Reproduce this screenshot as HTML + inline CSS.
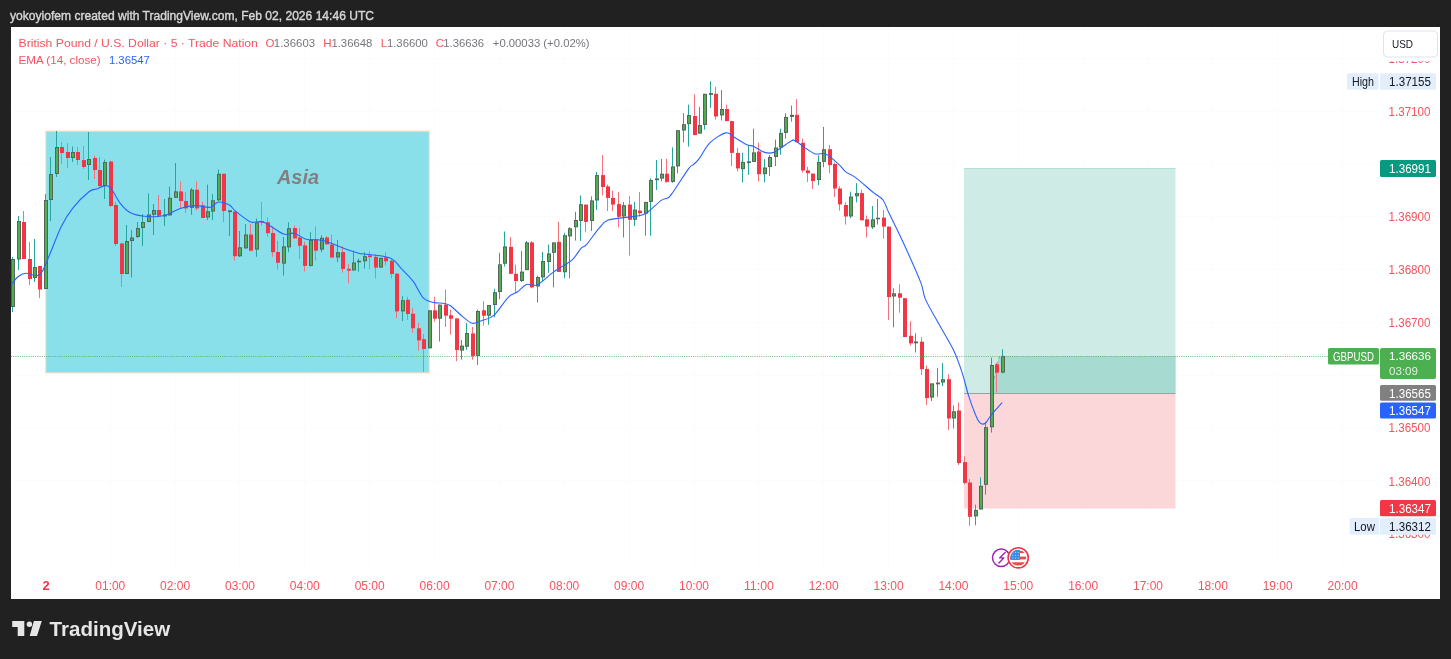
<!DOCTYPE html><html><head><meta charset="utf-8"><style>html,body{margin:0;padding:0;background:#212121;}svg{display:block;will-change:transform}text{font-family:"Liberation Sans",sans-serif}</style></head><body>
<svg width="1451" height="659" viewBox="0 0 1451 659">
<rect x="0" y="0" width="1451" height="659" fill="#212121"/>
<text x="10" y="20" font-size="12.5" fill="#d6d6d6" stroke="#d6d6d6" stroke-width="0.4" textLength="364" lengthAdjust="spacingAndGlyphs">yokoyiofem created with TradingView.com, Feb 02, 2026 14:46 UTC</text>
<rect x="11" y="27" width="1429" height="572" fill="#ffffff"/>
<path d="M110.5 27V566 M175.5 27V566 M239.5 27V566 M304.5 27V566 M369.5 27V566 M434.5 27V566 M499.5 27V566 M564.5 27V566 M629.5 27V566 M694.5 27V566 M758.5 27V566 M823.5 27V566 M888.5 27V566 M953.5 27V566 M1018.5 27V566 M1083.5 27V566 M1148.5 27V566 M1212.5 27V566 M1277.5 27V566 M1342.5 27V566 M11 58.5H1380 M11 111.5H1380 M11 164.5H1380 M11 216.5H1380 M11 269.5H1380 M11 322.5H1380 M11 375.5H1380 M11 427.5H1380 M11 480.5H1380" stroke="#fcfcfc" stroke-width="1" fill="none"/>
<rect x="45.6" y="131" width="383.8" height="242" fill="#89e0ea" stroke="#ffe2c8" stroke-width="1.3"/>
<text x="277" y="184" font-size="21" font-weight="bold" font-style="italic" fill="#857e80" textLength="42" lengthAdjust="spacingAndGlyphs">Asia</text>
<rect x="964" y="168" width="211.5" height="225" fill="#cfebe6"/>
<path d="M990.5 393L999 356H1175.5V393Z" fill="#a7dad1"/>
<path d="M990.5 393L999.5 356L1004 356" fill="none" stroke="#8c9896" stroke-width="0.8" stroke-dasharray="2.5 2.5"/>
<rect x="964" y="393" width="211.5" height="115.5" fill="#fcd7da"/>
<path d="M964 393.5H1175.5" stroke="#9aa3a1" stroke-width="1"/>
<path d="M964 168.5H1175.5" stroke="#b3e0d8" stroke-width="1"/>
<path d="M12.5 257.0V312.0" stroke="#26a69a" stroke-width="1"/>
<rect x="11" y="259.0" width="4" height="48.0" fill="#56645a"/>
<rect x="12" y="260.0" width="2" height="46.0" fill="#4caf50"/>
<path d="M18.5 216.0V270.0" stroke="#26a69a" stroke-width="1"/>
<rect x="17" y="221.0" width="4" height="38.5" fill="#56645a"/>
<rect x="18" y="222.0" width="2" height="36.5" fill="#4caf50"/>
<path d="M23.5 211.0V259.0" stroke="#f7707b" stroke-width="1"/>
<rect x="22" y="222.0" width="4" height="37.0" fill="#f23645"/>
<path d="M29.5 242.0V285.0" stroke="#f7707b" stroke-width="1"/>
<rect x="28" y="259.0" width="4" height="20.0" fill="#f23645"/>
<path d="M34.5 239.0V282.0" stroke="#26a69a" stroke-width="1"/>
<rect x="33" y="267.0" width="4" height="11.0" fill="#56645a"/>
<rect x="34" y="268.0" width="2" height="9.0" fill="#4caf50"/>
<path d="M39.5 266.0V298.0" stroke="#f7707b" stroke-width="1"/>
<rect x="38" y="266.0" width="4" height="23.5" fill="#f23645"/>
<path d="M45.5 194.0V289.0" stroke="#26a69a" stroke-width="1"/>
<rect x="44" y="200.0" width="4" height="89.0" fill="#56645a"/>
<rect x="45" y="201.0" width="2" height="87.0" fill="#4caf50"/>
<path d="M50.5 157.0V221.0" stroke="#26a69a" stroke-width="1"/>
<rect x="49" y="174.0" width="4" height="26.0" fill="#56645a"/>
<rect x="50" y="175.0" width="2" height="24.0" fill="#4caf50"/>
<path d="M56.5 131.0V177.0" stroke="#26a69a" stroke-width="1"/>
<rect x="55" y="147.0" width="4" height="27.0" fill="#56645a"/>
<rect x="56" y="148.0" width="2" height="25.0" fill="#4caf50"/>
<path d="M61.5 142.0V164.0" stroke="#f7707b" stroke-width="1"/>
<rect x="60" y="147.0" width="4" height="6.0" fill="#f23645"/>
<path d="M67.5 143.0V168.0" stroke="#f7707b" stroke-width="1"/>
<rect x="66" y="152.0" width="4" height="6.0" fill="#f23645"/>
<path d="M72.5 146.5V162.0" stroke="#26a69a" stroke-width="1"/>
<rect x="71" y="152.0" width="4" height="6.0" fill="#56645a"/>
<rect x="72" y="153.0" width="2" height="4.0" fill="#4caf50"/>
<path d="M77.5 147.0V165.0" stroke="#f7707b" stroke-width="1"/>
<rect x="76" y="152.0" width="4" height="8.0" fill="#f23645"/>
<path d="M83.5 146.0V169.0" stroke="#f7707b" stroke-width="1"/>
<rect x="82" y="160.0" width="4" height="7.0" fill="#f23645"/>
<path d="M88.5 132.0V180.0" stroke="#26a69a" stroke-width="1"/>
<rect x="87" y="159.0" width="4" height="6.0" fill="#56645a"/>
<rect x="88" y="160.0" width="2" height="4.0" fill="#4caf50"/>
<path d="M94.5 155.5V179.0" stroke="#f7707b" stroke-width="1"/>
<rect x="93" y="158.0" width="4" height="12.0" fill="#f23645"/>
<path d="M99.5 157.0V187.0" stroke="#f7707b" stroke-width="1"/>
<rect x="98" y="170.0" width="4" height="16.0" fill="#f23645"/>
<path d="M104.5 159.6V199.0" stroke="#26a69a" stroke-width="1"/>
<rect x="103" y="162.0" width="4" height="24.0" fill="#56645a"/>
<rect x="104" y="163.0" width="2" height="22.0" fill="#4caf50"/>
<path d="M110.5 161.0V207.0" stroke="#f7707b" stroke-width="1"/>
<rect x="109" y="161.5" width="4" height="44.5" fill="#f23645"/>
<path d="M115.5 202.0V246.0" stroke="#f7707b" stroke-width="1"/>
<rect x="114" y="205.0" width="4" height="39.0" fill="#f23645"/>
<path d="M121.5 243.0V287.0" stroke="#f7707b" stroke-width="1"/>
<rect x="120" y="243.5" width="4" height="30.5" fill="#f23645"/>
<path d="M126.5 225.0V274.0" stroke="#26a69a" stroke-width="1"/>
<rect x="125" y="241.0" width="4" height="33.0" fill="#56645a"/>
<rect x="126" y="242.0" width="2" height="31.0" fill="#4caf50"/>
<path d="M131.5 230.0V277.5" stroke="#26a69a" stroke-width="1"/>
<rect x="130" y="237.5" width="4" height="3.5" fill="#56645a"/>
<rect x="131" y="238.5" width="2" height="1.5" fill="#4caf50"/>
<path d="M137.5 222.0V238.0" stroke="#26a69a" stroke-width="1"/>
<rect x="136" y="228.0" width="4" height="9.0" fill="#56645a"/>
<rect x="137" y="229.0" width="2" height="7.0" fill="#4caf50"/>
<path d="M142.5 214.0V246.0" stroke="#26a69a" stroke-width="1"/>
<rect x="141" y="222.0" width="4" height="6.0" fill="#56645a"/>
<rect x="142" y="223.0" width="2" height="4.0" fill="#4caf50"/>
<path d="M148.5 193.5V222.0" stroke="#26a69a" stroke-width="1"/>
<rect x="147" y="214.5" width="4" height="7.5" fill="#56645a"/>
<rect x="148" y="215.5" width="2" height="5.5" fill="#4caf50"/>
<path d="M153.5 204.0V235.0" stroke="#26a69a" stroke-width="1"/>
<rect x="152" y="210.0" width="4" height="4.8" fill="#56645a"/>
<rect x="153" y="211.0" width="2" height="2.8" fill="#4caf50"/>
<path d="M158.5 195.0V217.0" stroke="#f7707b" stroke-width="1"/>
<rect x="157" y="210.0" width="4" height="5.8" fill="#f23645"/>
<path d="M164.5 199.0V226.0" stroke="#26a69a" stroke-width="1"/>
<rect x="163" y="214.6" width="4" height="1.8" fill="#56645a"/>
<path d="M169.5 186.5V215.8" stroke="#26a69a" stroke-width="1"/>
<rect x="168" y="197.8" width="4" height="17.6" fill="#56645a"/>
<rect x="169" y="198.8" width="2" height="15.6" fill="#4caf50"/>
<path d="M175.5 163.0V197.8" stroke="#26a69a" stroke-width="1"/>
<rect x="174" y="191.4" width="4" height="6.4" fill="#56645a"/>
<rect x="175" y="192.4" width="2" height="4.4" fill="#4caf50"/>
<path d="M180.5 181.4V208.4" stroke="#f7707b" stroke-width="1"/>
<rect x="179" y="191.4" width="4" height="9.6" fill="#f23645"/>
<path d="M185.5 192.0V212.7" stroke="#f7707b" stroke-width="1"/>
<rect x="184" y="201.0" width="4" height="7.4" fill="#f23645"/>
<path d="M191.5 188.0V214.8" stroke="#26a69a" stroke-width="1"/>
<rect x="190" y="189.7" width="4" height="18.1" fill="#56645a"/>
<rect x="191" y="190.7" width="2" height="16.1" fill="#4caf50"/>
<path d="M196.5 181.4V210.5" stroke="#f7707b" stroke-width="1"/>
<rect x="195" y="189.7" width="4" height="18.7" fill="#f23645"/>
<path d="M202.5 201.6V218.0" stroke="#f7707b" stroke-width="1"/>
<rect x="201" y="205.2" width="4" height="12.8" fill="#f23645"/>
<path d="M207.5 184.6V220.0" stroke="#26a69a" stroke-width="1"/>
<rect x="206" y="211.2" width="4" height="6.3" fill="#56645a"/>
<rect x="207" y="212.2" width="2" height="4.3" fill="#4caf50"/>
<path d="M212.5 194.0V220.0" stroke="#26a69a" stroke-width="1"/>
<rect x="211" y="200.3" width="4" height="11.3" fill="#56645a"/>
<rect x="212" y="201.3" width="2" height="9.3" fill="#4caf50"/>
<path d="M218.5 169.5V201.0" stroke="#26a69a" stroke-width="1"/>
<rect x="217" y="173.8" width="4" height="26.5" fill="#56645a"/>
<rect x="218" y="174.8" width="2" height="24.5" fill="#4caf50"/>
<path d="M223.5 173.8V222.2" stroke="#f7707b" stroke-width="1"/>
<rect x="222" y="173.8" width="4" height="37.2" fill="#f23645"/>
<path d="M229.5 211.0V236.0" stroke="#26a69a" stroke-width="1"/>
<rect x="228" y="210.3" width="4" height="1.8" fill="#56645a"/>
<path d="M234.5 211.6V260.5" stroke="#f7707b" stroke-width="1"/>
<rect x="233" y="211.6" width="4" height="44.6" fill="#f23645"/>
<path d="M239.5 231.0V257.0" stroke="#26a69a" stroke-width="1"/>
<rect x="238" y="247.3" width="4" height="9.0" fill="#56645a"/>
<rect x="239" y="248.3" width="2" height="7.0" fill="#4caf50"/>
<path d="M245.5 224.0V248.4" stroke="#26a69a" stroke-width="1"/>
<rect x="244" y="234.5" width="4" height="13.9" fill="#56645a"/>
<rect x="245" y="235.5" width="2" height="11.9" fill="#4caf50"/>
<path d="M250.5 224.0V251.5" stroke="#f7707b" stroke-width="1"/>
<rect x="249" y="234.5" width="4" height="16.2" fill="#f23645"/>
<path d="M256.5 218.5V256.8" stroke="#26a69a" stroke-width="1"/>
<rect x="255" y="222.3" width="4" height="27.3" fill="#56645a"/>
<rect x="256" y="223.3" width="2" height="25.3" fill="#4caf50"/>
<path d="M261.5 202.0V226.0" stroke="#f7707b" stroke-width="1"/>
<rect x="260" y="221.0" width="4" height="1.6" fill="#f23645"/>
<path d="M267.5 217.6V237.0" stroke="#f7707b" stroke-width="1"/>
<rect x="266" y="222.3" width="4" height="10.9" fill="#f23645"/>
<path d="M272.5 226.4V256.8" stroke="#f7707b" stroke-width="1"/>
<rect x="271" y="233.0" width="4" height="19.2" fill="#f23645"/>
<path d="M277.5 240.8V269.7" stroke="#f7707b" stroke-width="1"/>
<rect x="276" y="252.0" width="4" height="10.8" fill="#f23645"/>
<path d="M283.5 237.0V275.7" stroke="#26a69a" stroke-width="1"/>
<rect x="282" y="246.4" width="4" height="17.2" fill="#56645a"/>
<rect x="283" y="247.4" width="2" height="15.2" fill="#4caf50"/>
<path d="M288.5 222.3V252.2" stroke="#26a69a" stroke-width="1"/>
<rect x="287" y="228.2" width="4" height="19.2" fill="#56645a"/>
<rect x="288" y="229.2" width="2" height="17.2" fill="#4caf50"/>
<path d="M294.5 225.7V238.6" stroke="#f7707b" stroke-width="1"/>
<rect x="293" y="228.0" width="4" height="10.3" fill="#f23645"/>
<path d="M299.5 228.0V259.0" stroke="#f7707b" stroke-width="1"/>
<rect x="298" y="237.5" width="4" height="8.3" fill="#f23645"/>
<path d="M304.5 241.6V271.5" stroke="#f7707b" stroke-width="1"/>
<rect x="303" y="245.4" width="4" height="20.5" fill="#f23645"/>
<path d="M310.5 232.2V266.6" stroke="#26a69a" stroke-width="1"/>
<rect x="309" y="239.6" width="4" height="26.3" fill="#56645a"/>
<rect x="310" y="240.6" width="2" height="24.3" fill="#4caf50"/>
<path d="M315.5 226.4V260.6" stroke="#f7707b" stroke-width="1"/>
<rect x="314" y="239.3" width="4" height="11.4" fill="#f23645"/>
<path d="M321.5 235.2V252.2" stroke="#26a69a" stroke-width="1"/>
<rect x="320" y="237.8" width="4" height="11.8" fill="#56645a"/>
<rect x="321" y="238.8" width="2" height="9.8" fill="#4caf50"/>
<path d="M326.5 236.0V245.0" stroke="#f7707b" stroke-width="1"/>
<rect x="325" y="237.5" width="4" height="6.8" fill="#f23645"/>
<path d="M331.5 234.3V258.3" stroke="#f7707b" stroke-width="1"/>
<rect x="330" y="244.6" width="4" height="12.9" fill="#f23645"/>
<path d="M337.5 240.0V262.0" stroke="#26a69a" stroke-width="1"/>
<rect x="336" y="252.2" width="4" height="5.3" fill="#56645a"/>
<rect x="337" y="253.2" width="2" height="3.3" fill="#4caf50"/>
<path d="M342.5 246.0V272.7" stroke="#f7707b" stroke-width="1"/>
<rect x="341" y="252.0" width="4" height="16.9" fill="#f23645"/>
<path d="M348.5 264.0V283.3" stroke="#f7707b" stroke-width="1"/>
<rect x="347" y="268.8" width="4" height="1.8" fill="#f23645"/>
<path d="M353.5 250.5V270.6" stroke="#26a69a" stroke-width="1"/>
<rect x="352" y="262.5" width="4" height="7.9" fill="#56645a"/>
<rect x="353" y="263.5" width="2" height="5.9" fill="#4caf50"/>
<path d="M358.5 258.7V271.6" stroke="#26a69a" stroke-width="1"/>
<rect x="357" y="260.7" width="4" height="1.6" fill="#56645a"/>
<path d="M364.5 252.2V268.6" stroke="#26a69a" stroke-width="1"/>
<rect x="363" y="256.2" width="4" height="5.1" fill="#56645a"/>
<rect x="364" y="257.2" width="2" height="3.1" fill="#4caf50"/>
<path d="M369.5 251.4V269.2" stroke="#f7707b" stroke-width="1"/>
<rect x="368" y="255.4" width="4" height="1.8" fill="#f23645"/>
<path d="M375.5 254.2V278.5" stroke="#f7707b" stroke-width="1"/>
<rect x="374" y="256.8" width="4" height="10.8" fill="#f23645"/>
<path d="M380.5 257.8V267.6" stroke="#26a69a" stroke-width="1"/>
<rect x="379" y="257.8" width="4" height="9.8" fill="#56645a"/>
<rect x="380" y="258.8" width="2" height="7.8" fill="#4caf50"/>
<path d="M385.5 252.2V265.3" stroke="#f7707b" stroke-width="1"/>
<rect x="384" y="257.4" width="4" height="3.9" fill="#f23645"/>
<path d="M391.5 257.8V278.5" stroke="#f7707b" stroke-width="1"/>
<rect x="390" y="260.7" width="4" height="13.3" fill="#f23645"/>
<path d="M396.5 273.6V318.0" stroke="#f7707b" stroke-width="1"/>
<rect x="395" y="273.6" width="4" height="37.8" fill="#f23645"/>
<path d="M402.5 296.2V321.0" stroke="#26a69a" stroke-width="1"/>
<rect x="401" y="300.2" width="4" height="11.2" fill="#56645a"/>
<rect x="402" y="301.2" width="2" height="9.2" fill="#4caf50"/>
<path d="M407.5 296.8V320.0" stroke="#f7707b" stroke-width="1"/>
<rect x="406" y="299.8" width="4" height="14.2" fill="#f23645"/>
<path d="M412.5 308.0V332.8" stroke="#f7707b" stroke-width="1"/>
<rect x="411" y="313.7" width="4" height="14.6" fill="#f23645"/>
<path d="M418.5 323.0V350.6" stroke="#f7707b" stroke-width="1"/>
<rect x="417" y="328.3" width="4" height="12.1" fill="#f23645"/>
<path d="M423.5 334.0V372.0" stroke="#f7707b" stroke-width="1"/>
<rect x="422" y="339.2" width="4" height="9.8" fill="#f23645"/>
<path d="M429.5 310.0V348.3" stroke="#26a69a" stroke-width="1"/>
<rect x="428" y="310.3" width="4" height="38.0" fill="#56645a"/>
<rect x="429" y="311.3" width="2" height="36.0" fill="#4caf50"/>
<path d="M434.5 296.7V321.7" stroke="#f7707b" stroke-width="1"/>
<rect x="433" y="310.3" width="4" height="8.4" fill="#f23645"/>
<path d="M439.5 304.6V341.5" stroke="#26a69a" stroke-width="1"/>
<rect x="438" y="304.6" width="4" height="14.1" fill="#56645a"/>
<rect x="439" y="305.6" width="2" height="12.1" fill="#4caf50"/>
<path d="M445.5 289.4V327.0" stroke="#f7707b" stroke-width="1"/>
<rect x="444" y="304.6" width="4" height="11.1" fill="#f23645"/>
<path d="M450.5 309.6V334.6" stroke="#f7707b" stroke-width="1"/>
<rect x="449" y="315.2" width="4" height="3.5" fill="#f23645"/>
<path d="M456.5 318.4V361.2" stroke="#f7707b" stroke-width="1"/>
<rect x="455" y="318.4" width="4" height="31.6" fill="#f23645"/>
<path d="M461.5 340.0V359.7" stroke="#26a69a" stroke-width="1"/>
<rect x="460" y="345.6" width="4" height="5.0" fill="#56645a"/>
<rect x="461" y="346.6" width="2" height="3.0" fill="#4caf50"/>
<path d="M466.5 323.0V349.8" stroke="#26a69a" stroke-width="1"/>
<rect x="465" y="333.0" width="4" height="13.8" fill="#56645a"/>
<rect x="466" y="334.0" width="2" height="11.8" fill="#4caf50"/>
<path d="M472.5 327.0V359.7" stroke="#f7707b" stroke-width="1"/>
<rect x="471" y="333.4" width="4" height="22.5" fill="#f23645"/>
<path d="M477.5 309.6V365.0" stroke="#26a69a" stroke-width="1"/>
<rect x="476" y="311.0" width="4" height="44.9" fill="#56645a"/>
<rect x="477" y="312.0" width="2" height="42.9" fill="#4caf50"/>
<path d="M483.5 301.2V325.5" stroke="#f7707b" stroke-width="1"/>
<rect x="482" y="310.3" width="4" height="5.4" fill="#f23645"/>
<path d="M488.5 305.0V324.8" stroke="#26a69a" stroke-width="1"/>
<rect x="487" y="305.0" width="4" height="10.7" fill="#56645a"/>
<rect x="488" y="306.0" width="2" height="8.7" fill="#4caf50"/>
<path d="M494.5 288.8V317.2" stroke="#26a69a" stroke-width="1"/>
<rect x="493" y="292.2" width="4" height="12.8" fill="#56645a"/>
<rect x="494" y="293.2" width="2" height="10.8" fill="#4caf50"/>
<path d="M499.5 252.8V299.2" stroke="#26a69a" stroke-width="1"/>
<rect x="498" y="264.3" width="4" height="27.7" fill="#56645a"/>
<rect x="499" y="265.3" width="2" height="25.7" fill="#4caf50"/>
<path d="M504.5 231.5V266.5" stroke="#26a69a" stroke-width="1"/>
<rect x="503" y="246.4" width="4" height="17.3" fill="#56645a"/>
<rect x="504" y="247.4" width="2" height="15.3" fill="#4caf50"/>
<path d="M510.5 237.0V273.8" stroke="#f7707b" stroke-width="1"/>
<rect x="509" y="246.8" width="4" height="27.0" fill="#f23645"/>
<path d="M515.5 264.7V292.9" stroke="#f7707b" stroke-width="1"/>
<rect x="514" y="273.8" width="4" height="7.2" fill="#f23645"/>
<path d="M521.5 251.0V282.0" stroke="#26a69a" stroke-width="1"/>
<rect x="520" y="271.6" width="4" height="9.4" fill="#56645a"/>
<rect x="521" y="272.6" width="2" height="7.4" fill="#4caf50"/>
<path d="M526.5 241.0V270.1" stroke="#26a69a" stroke-width="1"/>
<rect x="525" y="242.4" width="4" height="27.7" fill="#56645a"/>
<rect x="526" y="243.4" width="2" height="25.7" fill="#4caf50"/>
<path d="M531.5 241.0V288.3" stroke="#f7707b" stroke-width="1"/>
<rect x="530" y="242.4" width="4" height="45.0" fill="#f23645"/>
<path d="M537.5 275.6V302.5" stroke="#26a69a" stroke-width="1"/>
<rect x="536" y="277.0" width="4" height="9.5" fill="#56645a"/>
<rect x="537" y="278.0" width="2" height="7.5" fill="#4caf50"/>
<path d="M542.5 252.0V281.0" stroke="#26a69a" stroke-width="1"/>
<rect x="541" y="261.0" width="4" height="16.4" fill="#56645a"/>
<rect x="542" y="262.0" width="2" height="14.4" fill="#4caf50"/>
<path d="M548.5 244.6V272.8" stroke="#26a69a" stroke-width="1"/>
<rect x="547" y="253.4" width="4" height="8.6" fill="#56645a"/>
<rect x="548" y="254.4" width="2" height="6.6" fill="#4caf50"/>
<path d="M553.5 242.4V287.4" stroke="#26a69a" stroke-width="1"/>
<rect x="552" y="242.4" width="4" height="10.4" fill="#56645a"/>
<rect x="553" y="243.4" width="2" height="8.4" fill="#4caf50"/>
<path d="M558.5 221.9V271.9" stroke="#f7707b" stroke-width="1"/>
<rect x="557" y="241.9" width="4" height="30.0" fill="#f23645"/>
<path d="M564.5 232.8V278.3" stroke="#26a69a" stroke-width="1"/>
<rect x="563" y="235.2" width="4" height="37.1" fill="#56645a"/>
<rect x="564" y="236.2" width="2" height="35.1" fill="#4caf50"/>
<path d="M569.5 227.3V278.3" stroke="#26a69a" stroke-width="1"/>
<rect x="568" y="228.2" width="4" height="8.2" fill="#56645a"/>
<rect x="569" y="229.2" width="2" height="6.2" fill="#4caf50"/>
<path d="M575.5 211.8V240.6" stroke="#26a69a" stroke-width="1"/>
<rect x="574" y="220.0" width="4" height="7.3" fill="#56645a"/>
<rect x="575" y="221.0" width="2" height="5.3" fill="#4caf50"/>
<path d="M580.5 195.5V241.0" stroke="#26a69a" stroke-width="1"/>
<rect x="579" y="204.2" width="4" height="16.8" fill="#56645a"/>
<rect x="580" y="205.2" width="2" height="14.8" fill="#4caf50"/>
<path d="M585.5 204.6V232.2" stroke="#f7707b" stroke-width="1"/>
<rect x="584" y="204.6" width="4" height="17.3" fill="#f23645"/>
<path d="M591.5 196.4V231.0" stroke="#26a69a" stroke-width="1"/>
<rect x="590" y="200.4" width="4" height="20.6" fill="#56645a"/>
<rect x="591" y="201.4" width="2" height="18.6" fill="#4caf50"/>
<path d="M596.5 171.9V210.0" stroke="#26a69a" stroke-width="1"/>
<rect x="595" y="175.1" width="4" height="25.4" fill="#56645a"/>
<rect x="596" y="176.1" width="2" height="23.4" fill="#4caf50"/>
<path d="M602.5 155.1V195.5" stroke="#f7707b" stroke-width="1"/>
<rect x="601" y="175.1" width="4" height="11.9" fill="#f23645"/>
<path d="M607.5 184.6V211.0" stroke="#f7707b" stroke-width="1"/>
<rect x="606" y="186.4" width="4" height="11.5" fill="#f23645"/>
<path d="M612.5 190.6V211.0" stroke="#f7707b" stroke-width="1"/>
<rect x="611" y="197.9" width="4" height="6.7" fill="#f23645"/>
<path d="M618.5 191.9V227.4" stroke="#f7707b" stroke-width="1"/>
<rect x="617" y="204.1" width="4" height="12.7" fill="#f23645"/>
<path d="M623.5 201.9V237.4" stroke="#26a69a" stroke-width="1"/>
<rect x="622" y="205.2" width="4" height="11.3" fill="#56645a"/>
<rect x="623" y="206.2" width="2" height="9.3" fill="#4caf50"/>
<path d="M629.5 196.0V255.6" stroke="#f7707b" stroke-width="1"/>
<rect x="628" y="204.6" width="4" height="15.2" fill="#f23645"/>
<path d="M634.5 201.9V226.0" stroke="#26a69a" stroke-width="1"/>
<rect x="633" y="209.6" width="4" height="10.2" fill="#56645a"/>
<rect x="634" y="210.6" width="2" height="8.2" fill="#4caf50"/>
<path d="M639.5 191.9V216.5" stroke="#f7707b" stroke-width="1"/>
<rect x="638" y="210.6" width="4" height="2.6" fill="#f23645"/>
<path d="M645.5 201.9V235.6" stroke="#26a69a" stroke-width="1"/>
<rect x="644" y="201.9" width="4" height="11.8" fill="#56645a"/>
<rect x="645" y="202.9" width="2" height="9.8" fill="#4caf50"/>
<path d="M650.5 178.2V235.6" stroke="#26a69a" stroke-width="1"/>
<rect x="649" y="180.0" width="4" height="21.9" fill="#56645a"/>
<rect x="650" y="181.0" width="2" height="19.9" fill="#4caf50"/>
<path d="M656.5 160.0V190.0" stroke="#26a69a" stroke-width="1"/>
<rect x="655" y="178.4" width="4" height="1.8" fill="#56645a"/>
<path d="M661.5 159.0V181.5" stroke="#26a69a" stroke-width="1"/>
<rect x="660" y="173.7" width="4" height="4.9" fill="#56645a"/>
<rect x="661" y="174.7" width="2" height="2.9" fill="#4caf50"/>
<path d="M666.5 159.0V182.8" stroke="#f7707b" stroke-width="1"/>
<rect x="665" y="173.7" width="4" height="8.2" fill="#f23645"/>
<path d="M672.5 147.3V182.8" stroke="#26a69a" stroke-width="1"/>
<rect x="671" y="166.4" width="4" height="15.5" fill="#56645a"/>
<rect x="672" y="167.4" width="2" height="13.5" fill="#4caf50"/>
<path d="M677.5 130.2V173.3" stroke="#26a69a" stroke-width="1"/>
<rect x="676" y="130.2" width="4" height="36.2" fill="#56645a"/>
<rect x="677" y="131.2" width="2" height="34.2" fill="#4caf50"/>
<path d="M683.5 113.2V142.4" stroke="#26a69a" stroke-width="1"/>
<rect x="682" y="124.2" width="4" height="6.3" fill="#56645a"/>
<rect x="683" y="125.2" width="2" height="4.3" fill="#4caf50"/>
<path d="M688.5 104.7V146.6" stroke="#26a69a" stroke-width="1"/>
<rect x="687" y="115.0" width="4" height="9.2" fill="#56645a"/>
<rect x="688" y="116.0" width="2" height="7.2" fill="#4caf50"/>
<path d="M694.5 94.1V135.1" stroke="#f7707b" stroke-width="1"/>
<rect x="693" y="116.0" width="4" height="19.1" fill="#f23645"/>
<path d="M699.5 106.9V133.6" stroke="#26a69a" stroke-width="1"/>
<rect x="698" y="125.0" width="4" height="8.6" fill="#56645a"/>
<rect x="699" y="126.0" width="2" height="6.6" fill="#4caf50"/>
<path d="M704.5 93.8V129.6" stroke="#26a69a" stroke-width="1"/>
<rect x="703" y="93.8" width="4" height="31.2" fill="#56645a"/>
<rect x="704" y="94.8" width="2" height="29.2" fill="#4caf50"/>
<path d="M710.5 81.4V107.8" stroke="#26a69a" stroke-width="1"/>
<rect x="709" y="93.1" width="4" height="1.8" fill="#56645a"/>
<path d="M715.5 86.8V119.6" stroke="#f7707b" stroke-width="1"/>
<rect x="714" y="93.8" width="4" height="22.7" fill="#f23645"/>
<path d="M721.5 90.1V120.5" stroke="#26a69a" stroke-width="1"/>
<rect x="720" y="109.0" width="4" height="6.4" fill="#56645a"/>
<rect x="721" y="110.0" width="2" height="4.4" fill="#4caf50"/>
<path d="M726.5 104.7V121.1" stroke="#f7707b" stroke-width="1"/>
<rect x="725" y="109.0" width="4" height="12.1" fill="#f23645"/>
<path d="M731.5 121.0V166.0" stroke="#f7707b" stroke-width="1"/>
<rect x="730" y="121.1" width="4" height="31.8" fill="#f23645"/>
<path d="M737.5 147.8V171.5" stroke="#f7707b" stroke-width="1"/>
<rect x="736" y="152.9" width="4" height="15.5" fill="#f23645"/>
<path d="M742.5 152.9V182.4" stroke="#26a69a" stroke-width="1"/>
<rect x="741" y="161.9" width="4" height="7.2" fill="#56645a"/>
<rect x="742" y="162.9" width="2" height="5.2" fill="#4caf50"/>
<path d="M748.5 145.0V174.8" stroke="#26a69a" stroke-width="1"/>
<rect x="747" y="161.3" width="4" height="1.8" fill="#56645a"/>
<path d="M753.5 128.7V161.9" stroke="#26a69a" stroke-width="1"/>
<rect x="752" y="152.4" width="4" height="9.5" fill="#56645a"/>
<rect x="753" y="153.4" width="2" height="7.5" fill="#4caf50"/>
<path d="M758.5 142.7V181.5" stroke="#f7707b" stroke-width="1"/>
<rect x="757" y="151.5" width="4" height="22.7" fill="#f23645"/>
<path d="M764.5 159.1V182.4" stroke="#26a69a" stroke-width="1"/>
<rect x="763" y="167.5" width="4" height="6.7" fill="#56645a"/>
<rect x="764" y="168.5" width="2" height="4.7" fill="#4caf50"/>
<path d="M769.5 155.0V176.0" stroke="#26a69a" stroke-width="1"/>
<rect x="768" y="157.0" width="4" height="10.0" fill="#56645a"/>
<rect x="769" y="158.0" width="2" height="8.0" fill="#4caf50"/>
<path d="M775.5 139.6V166.0" stroke="#26a69a" stroke-width="1"/>
<rect x="774" y="147.5" width="4" height="9.5" fill="#56645a"/>
<rect x="775" y="148.5" width="2" height="7.5" fill="#4caf50"/>
<path d="M780.5 128.7V154.8" stroke="#26a69a" stroke-width="1"/>
<rect x="779" y="132.9" width="4" height="14.6" fill="#56645a"/>
<rect x="780" y="133.9" width="2" height="12.6" fill="#4caf50"/>
<path d="M785.5 113.2V138.7" stroke="#26a69a" stroke-width="1"/>
<rect x="784" y="116.9" width="4" height="16.0" fill="#56645a"/>
<rect x="785" y="117.9" width="2" height="14.0" fill="#4caf50"/>
<path d="M791.5 105.6V121.6" stroke="#26a69a" stroke-width="1"/>
<rect x="790" y="114.8" width="4" height="2.1" fill="#56645a"/>
<rect x="791" y="115.8" width="2" height="0.1" fill="#4caf50"/>
<path d="M796.5 99.2V142.2" stroke="#f7707b" stroke-width="1"/>
<rect x="795" y="114.8" width="4" height="27.4" fill="#f23645"/>
<path d="M802.5 138.5V172.5" stroke="#f7707b" stroke-width="1"/>
<rect x="801" y="142.8" width="4" height="27.6" fill="#f23645"/>
<path d="M807.5 166.8V182.1" stroke="#f7707b" stroke-width="1"/>
<rect x="806" y="170.4" width="4" height="2.8" fill="#f23645"/>
<path d="M812.5 173.6V189.1" stroke="#f7707b" stroke-width="1"/>
<rect x="811" y="173.6" width="4" height="7.4" fill="#f23645"/>
<path d="M818.5 155.5V185.3" stroke="#26a69a" stroke-width="1"/>
<rect x="817" y="161.9" width="4" height="18.1" fill="#56645a"/>
<rect x="818" y="162.9" width="2" height="16.1" fill="#4caf50"/>
<path d="M823.5 126.9V167.2" stroke="#26a69a" stroke-width="1"/>
<rect x="822" y="149.2" width="4" height="12.7" fill="#56645a"/>
<rect x="823" y="150.2" width="2" height="10.7" fill="#4caf50"/>
<path d="M829.5 144.9V173.2" stroke="#f7707b" stroke-width="1"/>
<rect x="828" y="149.2" width="4" height="15.9" fill="#f23645"/>
<path d="M834.5 162.5V197.0" stroke="#f7707b" stroke-width="1"/>
<rect x="833" y="164.0" width="4" height="24.5" fill="#f23645"/>
<path d="M839.5 186.3V210.8" stroke="#f7707b" stroke-width="1"/>
<rect x="838" y="188.5" width="4" height="15.9" fill="#f23645"/>
<path d="M845.5 202.3V224.6" stroke="#f7707b" stroke-width="1"/>
<rect x="844" y="205.0" width="4" height="11.5" fill="#f23645"/>
<path d="M850.5 191.6V218.2" stroke="#26a69a" stroke-width="1"/>
<rect x="849" y="196.5" width="4" height="20.0" fill="#56645a"/>
<rect x="850" y="197.5" width="2" height="18.0" fill="#4caf50"/>
<path d="M856.5 183.1V202.3" stroke="#26a69a" stroke-width="1"/>
<rect x="855" y="193.1" width="4" height="3.2" fill="#56645a"/>
<rect x="856" y="194.1" width="2" height="1.2" fill="#4caf50"/>
<path d="M861.5 189.5V220.3" stroke="#f7707b" stroke-width="1"/>
<rect x="860" y="193.1" width="4" height="27.2" fill="#f23645"/>
<path d="M866.5 215.6V237.5" stroke="#f7707b" stroke-width="1"/>
<rect x="865" y="219.3" width="4" height="7.3" fill="#f23645"/>
<path d="M872.5 206.0V229.0" stroke="#26a69a" stroke-width="1"/>
<rect x="871" y="219.3" width="4" height="8.0" fill="#56645a"/>
<rect x="872" y="220.3" width="2" height="6.0" fill="#4caf50"/>
<path d="M877.5 199.0V224.6" stroke="#26a69a" stroke-width="1"/>
<rect x="876" y="217.8" width="4" height="1.5" fill="#56645a"/>
<path d="M883.5 210.0V238.7" stroke="#f7707b" stroke-width="1"/>
<rect x="882" y="217.6" width="4" height="9.0" fill="#f23645"/>
<path d="M888.5 226.6V320.0" stroke="#f7707b" stroke-width="1"/>
<rect x="887" y="226.6" width="4" height="70.4" fill="#f23645"/>
<path d="M893.5 288.4V327.3" stroke="#26a69a" stroke-width="1"/>
<rect x="892" y="293.3" width="4" height="3.2" fill="#56645a"/>
<rect x="893" y="294.3" width="2" height="1.2" fill="#4caf50"/>
<path d="M899.5 284.3V312.7" stroke="#f7707b" stroke-width="1"/>
<rect x="898" y="293.3" width="4" height="4.4" fill="#f23645"/>
<path d="M904.5 298.0V337.0" stroke="#f7707b" stroke-width="1"/>
<rect x="903" y="298.2" width="4" height="38.8" fill="#f23645"/>
<path d="M910.5 321.2V345.5" stroke="#f7707b" stroke-width="1"/>
<rect x="909" y="335.8" width="4" height="7.6" fill="#f23645"/>
<path d="M915.5 333.3V352.5" stroke="#26a69a" stroke-width="1"/>
<rect x="914" y="341.5" width="4" height="1.8" fill="#56645a"/>
<path d="M921.5 337.0V375.0" stroke="#f7707b" stroke-width="1"/>
<rect x="920" y="341.7" width="4" height="27.5" fill="#f23645"/>
<path d="M926.5 365.6V405.0" stroke="#f7707b" stroke-width="1"/>
<rect x="925" y="368.9" width="4" height="29.2" fill="#f23645"/>
<path d="M931.5 383.4V401.0" stroke="#26a69a" stroke-width="1"/>
<rect x="930" y="383.4" width="4" height="14.2" fill="#56645a"/>
<rect x="931" y="384.4" width="2" height="12.2" fill="#4caf50"/>
<path d="M937.5 368.0V396.8" stroke="#26a69a" stroke-width="1"/>
<rect x="936" y="382.6" width="4" height="1.7" fill="#56645a"/>
<path d="M942.5 363.0V386.0" stroke="#26a69a" stroke-width="1"/>
<rect x="941" y="379.2" width="4" height="3.4" fill="#56645a"/>
<rect x="942" y="380.2" width="2" height="1.4" fill="#4caf50"/>
<path d="M948.5 374.2V430.0" stroke="#f7707b" stroke-width="1"/>
<rect x="947" y="379.2" width="4" height="39.3" fill="#f23645"/>
<path d="M953.5 405.5V428.5" stroke="#26a69a" stroke-width="1"/>
<rect x="952" y="411.3" width="4" height="7.2" fill="#56645a"/>
<rect x="953" y="412.3" width="2" height="5.2" fill="#4caf50"/>
<path d="M958.5 402.4V465.0" stroke="#f7707b" stroke-width="1"/>
<rect x="957" y="410.5" width="4" height="52.6" fill="#f23645"/>
<path d="M964.5 456.2V484.4" stroke="#f7707b" stroke-width="1"/>
<rect x="963" y="462.1" width="4" height="20.8" fill="#f23645"/>
<path d="M969.5 479.0V526.0" stroke="#f7707b" stroke-width="1"/>
<rect x="968" y="482.5" width="4" height="34.3" fill="#f23645"/>
<path d="M975.5 504.6V525.3" stroke="#26a69a" stroke-width="1"/>
<rect x="974" y="509.9" width="4" height="6.5" fill="#56645a"/>
<rect x="975" y="510.9" width="2" height="4.5" fill="#4caf50"/>
<path d="M980.5 477.5V509.5" stroke="#26a69a" stroke-width="1"/>
<rect x="979" y="485.8" width="4" height="23.7" fill="#56645a"/>
<rect x="980" y="486.8" width="2" height="21.7" fill="#4caf50"/>
<path d="M985.5 421.7V494.7" stroke="#26a69a" stroke-width="1"/>
<rect x="984" y="427.2" width="4" height="57.6" fill="#56645a"/>
<rect x="985" y="428.2" width="2" height="55.6" fill="#4caf50"/>
<path d="M991.5 357.5V432.6" stroke="#26a69a" stroke-width="1"/>
<rect x="990" y="365.0" width="4" height="62.3" fill="#56645a"/>
<rect x="991" y="366.0" width="2" height="60.3" fill="#4caf50"/>
<path d="M996.5 362.8V392.4" stroke="#f7707b" stroke-width="1"/>
<rect x="995" y="364.3" width="4" height="8.3" fill="#f23645"/>
<path d="M1002.5 349.4V373.4" stroke="#26a69a" stroke-width="1"/>
<rect x="1001" y="356.0" width="4" height="16.6" fill="#56645a"/>
<rect x="1002" y="357.0" width="2" height="14.6" fill="#4caf50"/>
<path d="M11.0 285.0 C12.2 283.6 15.4 278.7 17.9 276.7 C20.4 274.7 22.2 273.5 25.8 273.2 C29.4 272.9 35.6 277.7 39.6 274.7 C43.6 271.7 45.9 263.1 49.5 255.0 C53.1 246.9 57.3 234.3 61.3 226.4 C65.2 218.5 68.6 213.4 73.2 207.6 C77.8 201.8 85.1 194.9 89.0 191.8 C92.9 188.7 94.2 189.9 96.8 188.9 C99.4 187.9 102.4 186.1 104.7 185.9 C107.0 185.7 108.0 184.9 110.6 187.9 C113.2 190.9 117.3 199.6 120.5 203.7 C123.7 207.8 126.1 210.5 130.0 212.6 C133.9 214.7 138.6 215.8 144.1 216.3 C149.6 216.8 157.2 217.1 163.2 215.8 C169.2 214.5 174.9 210.1 180.2 208.4 C185.5 206.7 190.1 205.8 195.1 205.6 C200.1 205.4 206.1 207.9 210.0 207.3 C213.9 206.7 215.3 202.4 218.5 202.0 C221.7 201.6 226.2 203.3 229.0 204.8 C231.8 206.3 232.8 208.9 235.5 211.2 C238.2 213.5 242.3 216.6 245.0 218.4 C247.7 220.2 248.6 221.7 251.7 222.3 C254.8 223.0 258.5 220.4 263.8 222.3 C269.1 224.2 278.4 232.2 283.5 234.0 C288.6 235.8 290.3 232.3 294.1 233.2 C297.9 234.1 302.0 238.2 306.3 239.3 C310.6 240.4 315.9 239.4 320.0 240.0 C324.1 240.6 326.6 241.7 330.6 243.1 C334.6 244.5 339.6 246.8 344.2 248.4 C348.8 250.1 355.0 252.1 357.9 253.0 C360.8 253.9 356.5 253.0 361.8 253.8 C367.1 254.6 382.9 255.3 389.5 257.8 C396.1 260.3 397.4 264.7 401.3 268.6 C405.2 272.5 409.5 276.5 413.2 281.4 C416.9 286.3 419.9 294.7 423.5 298.2 C427.1 301.7 431.3 301.8 434.5 302.6 C437.7 303.4 440.1 302.7 442.8 303.2 C445.5 303.7 447.4 303.6 450.5 305.7 C453.6 307.8 458.0 312.8 461.6 315.7 C465.2 318.6 468.9 322.4 472.2 323.2 C475.5 324.0 477.8 321.9 481.3 320.7 C484.9 319.4 489.0 319.6 493.5 315.7 C498.0 311.8 504.2 301.3 508.2 297.4 C512.2 293.4 514.3 294.1 517.3 292.0 C520.3 289.9 523.1 285.7 526.4 284.5 C529.7 283.3 532.8 286.8 537.3 284.7 C541.8 282.6 547.9 276.0 553.7 271.9 C559.5 267.8 567.4 264.0 571.9 260.1 C576.4 256.2 578.6 250.9 581.0 248.3 C583.4 245.7 583.5 247.9 586.5 244.6 C589.5 241.2 595.6 232.3 599.2 228.2 C602.8 224.1 603.7 221.9 608.2 220.1 C612.7 218.3 620.6 218.3 626.4 217.4 C632.2 216.5 638.8 215.9 642.8 214.7 C646.8 213.5 647.0 212.5 650.1 210.1 C653.2 207.7 658.3 202.4 661.2 200.4 C664.1 198.4 665.5 199.2 667.3 198.1 C669.1 197.0 668.3 198.5 671.9 193.6 C675.5 188.7 685.1 173.4 688.6 168.6 C692.1 163.8 691.3 166.5 693.1 164.8 C694.9 163.2 696.4 162.4 699.2 158.7 C702.0 155.0 705.4 147.1 709.8 142.8 C714.2 138.5 721.7 133.9 725.7 132.9 C729.7 131.9 730.2 135.0 733.7 136.9 C737.2 138.8 743.1 143.0 746.5 144.6 C749.9 146.2 750.8 145.1 753.8 146.4 C756.8 147.7 761.4 151.4 764.7 152.4 C768.0 153.4 771.1 153.2 773.8 152.4 C776.5 151.6 778.1 149.8 781.1 147.8 C784.1 145.9 789.2 141.8 791.7 140.7 C794.2 139.6 792.2 139.2 795.9 141.3 C799.6 143.4 809.0 151.3 814.0 153.4 C819.0 155.5 821.5 152.1 825.7 154.0 C830.0 155.9 836.1 162.1 839.5 165.1 C842.9 168.1 843.1 169.8 845.8 171.9 C848.4 174.0 850.8 173.9 855.4 177.4 C860.0 180.9 868.9 188.9 873.5 192.7 C878.1 196.5 880.4 196.6 883.0 200.0 C885.6 203.4 885.5 205.8 889.0 213.0 C892.5 220.2 898.4 231.9 903.7 243.5 C909.0 255.1 917.1 273.1 920.7 282.4 C924.3 291.7 922.3 292.1 925.5 299.4 C928.7 306.7 935.3 317.6 940.0 326.0 C944.7 334.4 949.9 342.5 953.5 350.1 C957.1 357.7 959.3 364.2 961.8 371.7 C964.3 379.2 966.2 388.1 968.4 395.1 C970.6 402.1 973.1 408.9 975.0 413.5 C976.9 418.1 978.1 421.1 979.8 422.7 C981.5 424.3 983.5 424.5 985.3 423.3 C987.1 422.1 988.0 418.9 990.8 415.5 C993.6 412.1 1000.3 404.8 1002.2 402.6" fill="none" stroke="#2962ff" stroke-width="1.1" stroke-linejoin="round"/>
<path d="M11 356.5H1328" stroke="#4caf50" stroke-width="1" stroke-dasharray="1 1.2" opacity="0.8"/>
<text x="1430.5" y="63.3" font-size="12.5" fill="#f7525f" text-anchor="end" textLength="42" lengthAdjust="spacingAndGlyphs">1.37200</text>
<text x="1430.5" y="115.8" font-size="12.5" fill="#f7525f" text-anchor="end" textLength="42" lengthAdjust="spacingAndGlyphs">1.37100</text>
<text x="1430.5" y="168.5" font-size="12.5" fill="#f7525f" text-anchor="end" textLength="42" lengthAdjust="spacingAndGlyphs">1.37000</text>
<text x="1430.5" y="221.2" font-size="12.5" fill="#f7525f" text-anchor="end" textLength="42" lengthAdjust="spacingAndGlyphs">1.36900</text>
<text x="1430.5" y="273.9" font-size="12.5" fill="#f7525f" text-anchor="end" textLength="42" lengthAdjust="spacingAndGlyphs">1.36800</text>
<text x="1430.5" y="326.6" font-size="12.5" fill="#f7525f" text-anchor="end" textLength="42" lengthAdjust="spacingAndGlyphs">1.36700</text>
<text x="1430.5" y="379.3" font-size="12.5" fill="#f7525f" text-anchor="end" textLength="42" lengthAdjust="spacingAndGlyphs">1.36600</text>
<text x="1430.5" y="432.0" font-size="12.5" fill="#f7525f" text-anchor="end" textLength="42" lengthAdjust="spacingAndGlyphs">1.36500</text>
<text x="1430.5" y="485.5" font-size="12.5" fill="#f7525f" text-anchor="end" textLength="42" lengthAdjust="spacingAndGlyphs">1.36400</text>
<text x="1430.5" y="538.2" font-size="12.5" fill="#f7525f" text-anchor="end" textLength="42" lengthAdjust="spacingAndGlyphs">1.36300</text>
<rect x="1380" y="27" width="60" height="34.2" fill="#ffffff"/>
<rect x="1383.5" y="31" width="54" height="26" rx="4" fill="#ffffff" stroke="#e0e3eb"/>
<text x="1392" y="47.8" font-size="11.5" fill="#131722" textLength="21" lengthAdjust="spacingAndGlyphs">USD</text>
<rect x="1347" y="73.3" width="31.5" height="16.5" fill="#e3eefc" rx="1.5"/>
<text x="1374" y="86.1" font-size="12.5" fill="#131722" text-anchor="end" textLength="22" lengthAdjust="spacingAndGlyphs">High</text>
<rect x="1380" y="73.3" width="56" height="16.5" fill="#e3eefc" rx="1.5"/>
<text x="1431" y="86.1" font-size="12.5" fill="#131722" text-anchor="end" textLength="42" lengthAdjust="spacingAndGlyphs">1.37155</text>
<rect x="1380" y="160" width="56" height="17" fill="#089981" rx="1.5"/>
<text x="1431" y="173.1" font-size="12.5" fill="#ffffff" text-anchor="end" textLength="42" lengthAdjust="spacingAndGlyphs">1.36991</text>
<rect x="1328" y="348" width="51" height="16.5" fill="#4caf50" rx="1.5"/>
<text x="1374" y="360.9" font-size="12.5" fill="#ffffff" text-anchor="end" textLength="41" lengthAdjust="spacingAndGlyphs">GBPUSD</text>
<rect x="1380" y="348" width="56" height="31" fill="#4caf50" rx="2"/>
<text x="1431" y="360.4" font-size="11.5" fill="#ffffff" text-anchor="end" textLength="42" lengthAdjust="spacingAndGlyphs">1.36636</text>
<text x="1389" y="374.6" font-size="11.5" fill="#e0f0e0" textLength="29" lengthAdjust="spacingAndGlyphs">03:09</text>
<rect x="1380" y="385" width="56" height="15.8" fill="#808080" rx="1.5"/>
<text x="1431" y="397.5" font-size="12.5" fill="#ffffff" text-anchor="end" textLength="42" lengthAdjust="spacingAndGlyphs">1.36565</text>
<rect x="1380" y="402.5" width="56" height="16" fill="#2962ff" rx="1.5"/>
<text x="1431" y="415.1" font-size="12.5" fill="#ffffff" text-anchor="end" textLength="42" lengthAdjust="spacingAndGlyphs">1.36547</text>
<rect x="1380" y="500" width="56" height="16.2" fill="#f23645" rx="1.5"/>
<text x="1431" y="512.7" font-size="12.5" fill="#ffffff" text-anchor="end" textLength="42" lengthAdjust="spacingAndGlyphs">1.36347</text>
<rect x="1349.7" y="518" width="29.5" height="16.8" fill="#e3eefc" rx="1.5"/>
<text x="1375" y="531.0" font-size="12.5" fill="#131722" text-anchor="end" textLength="21" lengthAdjust="spacingAndGlyphs">Low</text>
<rect x="1380" y="518" width="56" height="16.8" fill="#e3eefc" rx="1.5"/>
<text x="1431" y="531.0" font-size="12.5" fill="#131722" text-anchor="end" textLength="42" lengthAdjust="spacingAndGlyphs">1.36312</text>
<text x="46.1" y="589.6" font-size="13" font-weight="bold" fill="#f23645" text-anchor="middle">2</text>
<text x="110.3" y="589.6" font-size="13" fill="#f7525f" text-anchor="middle" textLength="30" lengthAdjust="spacingAndGlyphs">01:00</text>
<text x="175.1" y="589.6" font-size="13" fill="#f7525f" text-anchor="middle" textLength="30" lengthAdjust="spacingAndGlyphs">02:00</text>
<text x="240.0" y="589.6" font-size="13" fill="#f7525f" text-anchor="middle" textLength="30" lengthAdjust="spacingAndGlyphs">03:00</text>
<text x="304.8" y="589.6" font-size="13" fill="#f7525f" text-anchor="middle" textLength="30" lengthAdjust="spacingAndGlyphs">04:00</text>
<text x="369.7" y="589.6" font-size="13" fill="#f7525f" text-anchor="middle" textLength="30" lengthAdjust="spacingAndGlyphs">05:00</text>
<text x="434.6" y="589.6" font-size="13" fill="#f7525f" text-anchor="middle" textLength="30" lengthAdjust="spacingAndGlyphs">06:00</text>
<text x="499.4" y="589.6" font-size="13" fill="#f7525f" text-anchor="middle" textLength="30" lengthAdjust="spacingAndGlyphs">07:00</text>
<text x="564.3" y="589.6" font-size="13" fill="#f7525f" text-anchor="middle" textLength="30" lengthAdjust="spacingAndGlyphs">08:00</text>
<text x="629.1" y="589.6" font-size="13" fill="#f7525f" text-anchor="middle" textLength="30" lengthAdjust="spacingAndGlyphs">09:00</text>
<text x="694.0" y="589.6" font-size="13" fill="#f7525f" text-anchor="middle" textLength="30" lengthAdjust="spacingAndGlyphs">10:00</text>
<text x="758.9" y="589.6" font-size="13" fill="#f7525f" text-anchor="middle" textLength="30" lengthAdjust="spacingAndGlyphs">11:00</text>
<text x="823.7" y="589.6" font-size="13" fill="#f7525f" text-anchor="middle" textLength="30" lengthAdjust="spacingAndGlyphs">12:00</text>
<text x="888.6" y="589.6" font-size="13" fill="#f7525f" text-anchor="middle" textLength="30" lengthAdjust="spacingAndGlyphs">13:00</text>
<text x="953.4" y="589.6" font-size="13" fill="#f7525f" text-anchor="middle" textLength="30" lengthAdjust="spacingAndGlyphs">14:00</text>
<text x="1018.3" y="589.6" font-size="13" fill="#f7525f" text-anchor="middle" textLength="30" lengthAdjust="spacingAndGlyphs">15:00</text>
<text x="1083.2" y="589.6" font-size="13" fill="#f7525f" text-anchor="middle" textLength="30" lengthAdjust="spacingAndGlyphs">16:00</text>
<text x="1148.0" y="589.6" font-size="13" fill="#f7525f" text-anchor="middle" textLength="30" lengthAdjust="spacingAndGlyphs">17:00</text>
<text x="1212.9" y="589.6" font-size="13" fill="#f7525f" text-anchor="middle" textLength="30" lengthAdjust="spacingAndGlyphs">18:00</text>
<text x="1277.7" y="589.6" font-size="13" fill="#f7525f" text-anchor="middle" textLength="30" lengthAdjust="spacingAndGlyphs">19:00</text>
<text x="1342.6" y="589.6" font-size="13" fill="#f7525f" text-anchor="middle" textLength="30" lengthAdjust="spacingAndGlyphs">20:00</text>
<text x="18.6" y="47" font-size="11.5" fill="#f7525f" textLength="239.3" lengthAdjust="spacingAndGlyphs">British Pound / U.S. Dollar · 5 · Trade Nation</text>
<text x="265.5" y="47" font-size="11.5" fill="#f7525f">O</text>
<text x="273.8" y="47" font-size="11.5" fill="#76777c" textLength="41.3" lengthAdjust="spacingAndGlyphs">1.36603</text>
<text x="323.3" y="47" font-size="11.5" fill="#f7525f">H</text>
<text x="331.4" y="47" font-size="11.5" fill="#76777c" textLength="41" lengthAdjust="spacingAndGlyphs">1.36648</text>
<text x="380.8" y="47" font-size="11.5" fill="#f7525f">L</text>
<text x="386.9" y="47" font-size="11.5" fill="#76777c" textLength="41" lengthAdjust="spacingAndGlyphs">1.36600</text>
<text x="435.8" y="47" font-size="11.5" fill="#f7525f">C</text>
<text x="443.2" y="47" font-size="11.5" fill="#76777c" textLength="41" lengthAdjust="spacingAndGlyphs">1.36636</text>
<text x="492.8" y="47" font-size="11.5" fill="#76777c" textLength="96.7" lengthAdjust="spacingAndGlyphs">+0.00033 (+0.02%)</text>
<text x="18.6" y="63.7" font-size="11.5" fill="#f7525f" textLength="82" lengthAdjust="spacingAndGlyphs">EMA (14, close)</text>
<text x="108.9" y="63.7" font-size="11.5" fill="#2962ff" textLength="41" lengthAdjust="spacingAndGlyphs">1.36547</text>
<circle cx="1001.2" cy="557.8" r="8.7" fill="#ffffff" stroke="#9c27b0" stroke-width="1.5"/>
<path d="M1005.2 552.4 L999.6 557.9 L1003.8 557.9 L998.9 562.9" fill="none" stroke="#9c27b0" stroke-width="1.4" stroke-linecap="round" stroke-linejoin="round"/>
<circle cx="1018.2" cy="557.8" r="10.1" fill="#ffffff" stroke="#f23645" stroke-width="1.6"/>
<clipPath id="fc"><circle cx="1018.2" cy="557.8" r="8"/></clipPath>
<g clip-path="url(#fc)"><rect x="1009" y="549" width="19" height="18" fill="#ffffff"/><rect x="1009" y="550.8" width="19" height="2.3" fill="#f04848"/><rect x="1009" y="556.6" width="19" height="2.8" fill="#f04848"/><rect x="1009" y="562.3" width="19" height="3.3" fill="#f04848"/><rect x="1009" y="549" width="11" height="11" fill="#3a8ee6"/><g fill="#ffffff" opacity="0.8"><circle cx="1012.8" cy="552.5" r="0.5"/><circle cx="1015.5" cy="552.5" r="0.5"/><circle cx="1018.2" cy="552.5" r="0.5"/><circle cx="1012.8" cy="555.2" r="0.5"/><circle cx="1015.5" cy="555.2" r="0.5"/><circle cx="1018.2" cy="555.2" r="0.5"/><circle cx="1012.8" cy="557.9" r="0.5"/><circle cx="1015.5" cy="557.9" r="0.5"/><circle cx="1018.2" cy="557.9" r="0.5"/></g></g>
<path d="M12.2 620.9H24.3V635.9H17.7V626.9H12.2Z" fill="#e6e6e6"/>
<circle cx="29.4" cy="624.2" r="2.7" fill="#e6e6e6"/>
<path d="M33.9 620.9H41.8L37 635.9H29.7Z" fill="#e6e6e6"/>
<text x="49.6" y="636" font-size="21" font-weight="bold" fill="#e6e6e6" textLength="120.6" lengthAdjust="spacingAndGlyphs">TradingView</text>
</svg></body></html>
